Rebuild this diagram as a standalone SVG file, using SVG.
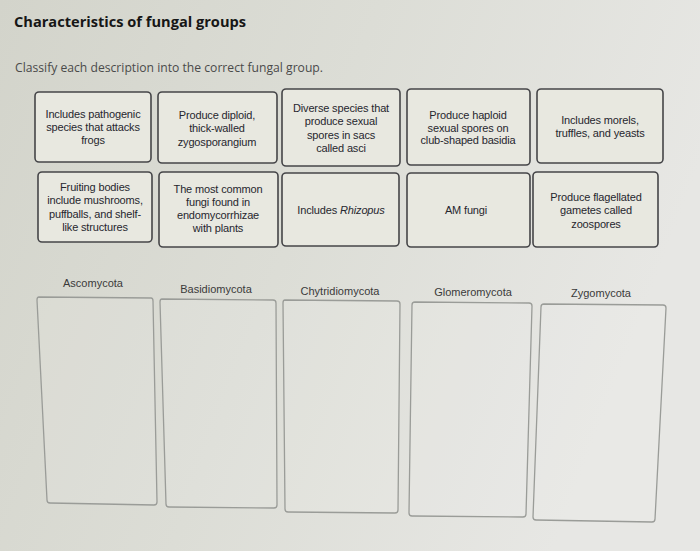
<svg xmlns="http://www.w3.org/2000/svg" width="700" height="551" viewBox="0 0 700 551">
<defs>
<linearGradient id="bg" x1="0" y1="0" x2="1" y2="0.3">
<stop offset="0" stop-color="#d3d4cb"/>
<stop offset="0.5" stop-color="#dcddd6"/>
<stop offset="1" stop-color="#e7e7e4"/>
</linearGradient>
</defs>
<style>
.card{fill:#e8e8e0;stroke:#454548;stroke-width:1.6}
.drop{fill:#ffffff;fill-opacity:0.1;stroke:#9a9c98;stroke-width:1.3;stroke-linejoin:round}
.t{font-family:"Liberation Sans",Arial,sans-serif;font-size:11px;fill:#26262e;text-anchor:middle;letter-spacing:-0.15px}
.lab{font-family:"Liberation Sans",Arial,sans-serif;font-size:11px;fill:#3a3a3a;text-anchor:middle}
.title{font-family:"Open Sans",Lato,sans-serif;font-weight:bold;font-size:15px;fill:#161616}
.sub{font-family:"Open Sans",Lato,sans-serif;font-size:12px;fill:#4a4a4a}
</style>
<rect width="700" height="551" fill="url(#bg)"/>
<text class="title" x="14" y="27" textLength="232" lengthAdjust="spacingAndGlyphs">Characteristics of fungal groups</text>
<text class="sub" x="15" y="72" textLength="308" lengthAdjust="spacingAndGlyphs">Classify each description into the correct fungal group.</text>

<g id="card-pathogenic"><rect class="card" x="35" y="92" width="116" height="70" rx="4"/>
<text class="t" x="93" y="118">Includes pathogenic</text><text class="t" x="93" y="131">species that attacks</text><text class="t" x="93" y="144">frogs</text></g>
<g id="card-diploid"><rect class="card" x="158" y="92" width="119" height="71" rx="4"/>
<text class="t" x="217" y="119">Produce diploid,</text><text class="t" x="217" y="132">thick-walled</text><text class="t" x="217" y="146">zygosporangium</text></g>
<g id="card-asci"><rect class="card" x="282" y="89" width="118" height="77" rx="4"/>
<text class="t" x="341" y="112">Diverse species that</text><text class="t" x="341" y="125">produce sexual</text><text class="t" x="341" y="139">spores in sacs</text><text class="t" x="341" y="152">called asci</text></g>
<g id="card-basidia"><rect class="card" x="407" y="89" width="123" height="76" rx="4"/>
<text class="t" x="468" y="119">Produce haploid</text><text class="t" x="468" y="132">sexual spores on</text><text class="t" x="468" y="144">club-shaped basidia</text></g>
<g id="card-morels"><rect class="card" x="537" y="89" width="126" height="74" rx="4"/>
<text class="t" x="600" y="124">Includes morels,</text><text class="t" x="600" y="137">truffles, and yeasts</text></g>

<g id="card-fruiting"><rect class="card" x="38" y="172" width="114" height="70" rx="4"/>
<text class="t" x="95" y="191">Fruiting bodies</text><text class="t" x="95" y="204">include mushrooms,</text><text class="t" x="95" y="218">puffballs, and shelf-</text><text class="t" x="95" y="231">like structures</text></g>
<g id="card-endomyc"><rect class="card" x="159" y="172" width="119" height="75" rx="4"/>
<text class="t" x="218" y="193">The most common</text><text class="t" x="218" y="206">fungi found in</text><text class="t" x="218" y="219">endomycorrhizae</text><text class="t" x="218" y="232">with plants</text></g>
<g id="card-rhizopus"><rect class="card" x="282" y="173" width="117" height="73" rx="4"/>
<text class="t" x="341" y="214">Includes <tspan font-style="italic">Rhizopus</tspan></text></g>
<g id="card-am"><rect class="card" x="407" y="173" width="123" height="74" rx="4"/>
<text class="t" x="466" y="214">AM fungi</text></g>
<g id="card-flagellated"><rect class="card" x="533" y="172" width="125" height="75" rx="4"/>
<text class="t" x="596" y="201">Produce flagellated</text><text class="t" x="596" y="214">gametes called</text><text class="t" x="596" y="228">zoospores</text></g>

<g id="zone-ascomycota"><text class="lab" x="93" y="287">Ascomycota</text>
<path class="drop" d="M39,297 L151,298 Q153,298 153,301 L157,502 Q157,505 154,505 L50,503 Q47,503 47,500 L37,300 Q37,297 39,297 Z"/></g>
<g id="zone-basidiomycota"><text class="lab" x="216" y="293">Basidiomycota</text>
<path class="drop" d="M162,299 L273,300 Q276,300 276,303 L277,505 Q277,508 274,508 L169,507 Q166,507 166,504 L160,302 Q160,299 162,299 Z"/></g>
<g id="zone-chytridiomycota"><text class="lab" x="340" y="295">Chytridiomycota</text>
<path class="drop" d="M285,300 L397,301 Q400,301 400,304 L398,510 Q398,513 395,513 L288,512 Q285,512 285,509 L283,303 Q283,300 285,300 Z"/></g>
<g id="zone-glomeromycota"><text class="lab" x="473" y="296">Glomeromycota</text>
<path class="drop" d="M415,302 L529,303 Q532,303 532,306 L526,514 Q526,517 523,517 L412,516 Q409,516 409,513 L412,305 Q412,302 415,302 Z"/></g>
<g id="zone-zygomycota"><text class="lab" x="601" y="297">Zygomycota</text>
<path class="drop" d="M544,304 L663,305 Q666,305 666,308 L655,519 Q655,522 652,522 L536,520 Q533,520 533,517 L541,307 Q541,304 544,304 Z"/></g>
<g id="connectors"></g>
</svg>
